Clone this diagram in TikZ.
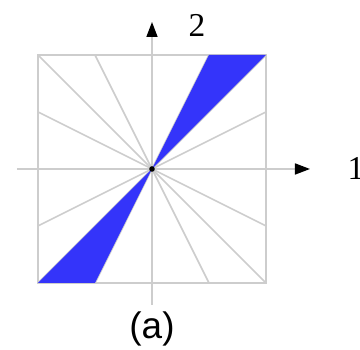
\documentclass[tikz,border=0pt]{standalone}
\usepackage{fontspec}
\setmainfont{Liberation Serif}
\setsansfont{Liberation Sans}
\usetikzlibrary{arrows.meta,positioning,calc}
\definecolor{wedgeBlue}{RGB}{52,52,250}
\definecolor{lineGray}{RGB}{205,205,205}
\tikzset{
  guide/.style={draw=lineGray, line width=0.45pt},
  axis/.style={guide, -{Triangle[length=1.5mm, width=1.1mm, color=black]}},
  wedge/.style={fill=wedgeBlue, draw=none},
  axlabel/.style={inner sep=0pt, font=\fontsize{9.5}{10}\selectfont}
}
\begin{document}
\begin{tikzpicture}
\useasboundingbox (-1.52,-1.81) rectangle (2.08,1.69);
\def\a{1.14}
% frame and rays
\coordinate (O) at (0,0);
\draw[guide] (-\a,-\a) rectangle (\a,\a);
\foreach \p/\q in {{(-\a,\a)}/{(\a,-\a)}, {(-\a/2,\a)}/{(\a/2,-\a)}, {(-\a,\a/2)}/{(\a,-\a/2)},
                   {(-\a,-\a/2)}/{(\a,\a/2)}, {(-\a,-\a)}/{(\a,\a)}, {(-\a/2,-\a)}/{(\a/2,\a)}}
  \draw[guide] \p -- \q;
% blue wedges
\fill[wedge] (O) -- (\a/2,\a) -- (\a,\a) -- cycle;
\fill[wedge] (O) -- (-\a/2,-\a) -- (-\a,-\a) -- cycle;
% axes
\coordinate (xs) at (-1.35,0);
\coordinate (xe) at (1.58,0);
\coordinate (ys) at (0,-1.36);
\coordinate (ye) at (0,1.47);
\draw[axis] (xs) -- (xe);
\draw[axis] (ys) -- (ye);
\fill (O) circle (0.028);
\node[axlabel] (one) at (2.04,0.01) {1};
\node[axlabel] (two) at (0.45,1.44) {2};
\node[font=\sffamily\fontsize{10.5}{11}\selectfont] (cap) at (0,-1.6) {(a)};
\end{tikzpicture}
\end{document}
